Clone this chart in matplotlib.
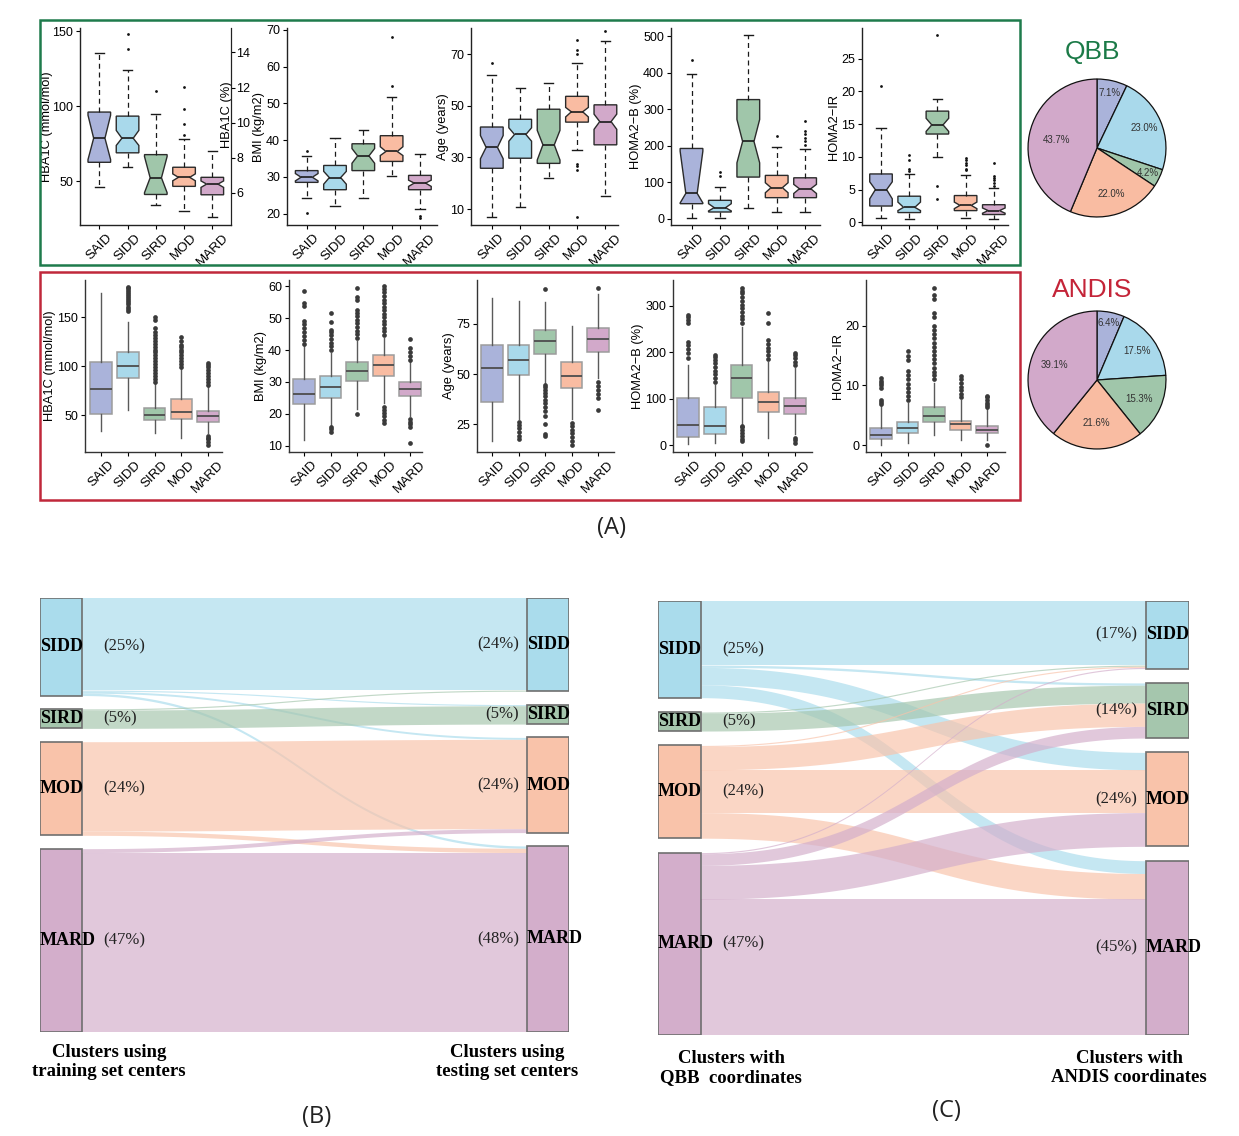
import numpy as np
import matplotlib
matplotlib.use('Agg')
import matplotlib.pyplot as plt
from matplotlib.patches import Rectangle

W, H = 1239, 1136
fig = plt.figure(figsize=(W / 100, H / 100), dpi=100)
SANS = 'Liberation Sans'
SERIF = 'Liberation Serif'

# ---------------------------------------------------------------- data
clusters = ['SAID', 'SIDD', 'SIRD', 'MOD', 'MARD']
box_colors = ['#aab3da', '#a9d9eb', '#a0c6aa', '#f9bca2', '#d2a9ca']

# QBB boxplots: (whislo, q1, median, q3, whishi, notch_lo, notch_hi)
qbb_hba1c = [(46, 62.7, 78.7, 96.1, 135.7, 64.5, 94.0), (59.8, 69, 78.7, 93.4, 124.4, 73.9, 83.9),
             (34, 41.3, 52.4, 67.8, 94.5, 42.5, 66.5), (30.4, 46.7, 52.7, 59.4, 78.3, 50.4, 55.0),
             (26, 41.1, 48.2, 52.7, 70, 46.0, 50.3)]
qbb_hba1c_out = [[], [138, 147.8], [110], [81, 88, 98, 113], []]
qbb_bmi = [(24.2, 28.5, 29.9, 31.7, 35.8, 28.9, 30.9), (22.1, 26.5, 29.8, 33.1, 40.6, 28.0, 31.5),
           (24.3, 31.7, 35.7, 39.0, 42.8, 33.7, 37.7), (30.1, 34.2, 36.9, 41.2, 51.6, 35.8, 38.2),
           (21.3, 26.5, 28.3, 30.4, 36.1, 27.4, 29.1)]
qbb_bmi_out = [[20.1, 37.0], [], [], [54.8, 68.0], [18.8, 19.4]]
qbb_age = [(7, 25.8, 33.9, 41.8, 61.9, 29.5, 38.5), (10.9, 29.7, 38.9, 44.8, 56.9, 36.3, 41.5),
           (22, 27.7, 34.9, 48.7, 58.8, 29.0, 40.5), (33, 43.7, 47.7, 53.7, 66.8, 45.7, 49.4),
           (15, 34.9, 43.9, 50.4, 75, 40.9, 46.8)]
qbb_age_out = [[66.8], [], [], [7, 25, 26.5, 27.5, 70, 71.7, 75.6], [78.9]]
qbb_homab = [(1, 41, 69.3, 192.5, 397, 43, 185), (2.7, 18.2, 30.1, 50.2, 86.7, 21, 41),
             (30, 114, 211.7, 326.6, 502.7, 153, 272), (18.2, 57.5, 84.9, 118.6, 196, 71, 98.5),
             (18, 57.5, 82, 112, 190, 69, 94)]
qbb_homab_out = [[436], [117, 128], [], [226], [203, 212, 222, 231, 240, 267]]
qbb_homair = [(0.6, 2.5, 5.0, 7.4, 14.4, 3.6, 6.2), (0.5, 1.5, 2.3, 4.0, 7.4, 1.8, 3.1),
              (10.0, 13.5, 14.9, 17.0, 18.9, 13.9, 15.9), (0.6, 1.8, 2.6, 4.1, 7.2, 2.1, 3.1),
              (0.5, 1.2, 1.8, 2.7, 5.2, 1.4, 2.2)]
qbb_homair_out = [[20.8], [7.9, 8.2, 9.6, 10.3], [3.5, 5.6, 28.6], [8.0, 8.2, 8.7, 9.1, 9.5, 9.9],
                  [5.6, 6.0, 6.4, 6.8, 7.1, 9.0]]

# ANDIS boxplots: (whislo, q1, median, q3, whishi)
andis_hba1c = [(33.7, 51.7, 77.1, 103.9, 175), (55, 88, 100.2, 114.4, 145.6), (32, 44.9, 50, 57.5, 82.9),
               (27, 45.6, 53.4, 66.6, 97.8), (32, 43.2, 49, 54, 79.5)]
andis_hba1c_out = [[], [156, 158, 160, 163, 166, 168, 170, 172, 174, 176, 178, 180, 181],
                   [84, 87, 90, 93, 96, 99, 102, 105, 108, 111, 114, 117, 120, 123, 126, 129, 132, 135, 139, 147, 150],
                   [99, 102, 105, 108, 111, 114, 117, 120, 122, 126, 130],
                   [20, 23, 26, 27, 28.6, 81, 84, 87, 90, 93, 96, 99, 101, 103]]
andis_bmi = [(12, 23, 26.1, 30.8, 41.1), (16.3, 25.1, 28.4, 31.8, 39.0), (21.5, 30.2, 33.3, 36.2, 42.7),
             (23.5, 31.8, 35.4, 38.5, 43.7), (19.4, 25.6, 27.9, 29.9, 36.5)]
andis_bmi_out = [[42, 43.2, 44.4, 45.6, 46.8, 48, 49, 53.8, 54.6, 58.5],
                 [14.5, 15.2, 16.0, 40.0, 41.2, 42.3, 43.5, 44.6, 45.7, 46.3, 48.9, 51.7],
                 [19.9, 43.8, 44.9, 46.0, 47.2, 48.3, 49.5, 50.6, 51.7, 52.5, 55.5, 56.7, 59.3],
                 [17.3, 18.2, 19.5, 20.4, 21.3, 22.3, 44.8, 45.9, 47.0, 48.1, 49.2, 50.3, 51.4, 52.5,
                  53.6, 54.7, 55.8, 56.9, 58.0, 59.1, 60.0],
                 [10.8, 15.8, 16.8, 17.6, 18.3, 37.0, 38.2, 39.4, 40.6, 43.4]]
andis_age = [(16.8, 36.1, 52.9, 64.6, 87.7), (27.5, 49.8, 57.2, 64.6, 86.6), (45.6, 60, 66.3, 72, 86),
             (27.5, 43.2, 48.9, 56, 73.7), (48, 61, 67.6, 72.9, 89.9)]
andis_age_out = [[], [17.6, 19.5, 21.3, 23.1, 24.8, 26.3],
                 [19.5, 20.4, 25, 29, 31.5, 33.5, 35.5, 37.3, 39.0, 40.5, 42.0, 43.5, 44.6, 92.2],
                 [15, 17, 18.8, 20.5, 22.2, 24, 25.8],
                 [32.4, 38, 40, 42, 44, 46, 93]]
andis_homab = [(1.4, 17.9, 43.7, 101.7, 173), (5, 24.3, 40.8, 81.6, 130), (44.4, 101.7, 144.6, 173, 255.6),
               (15.7, 71, 93, 114.6, 180), (23, 65.9, 85.2, 101.7, 166)]
andis_homab_out = [[187.6, 198, 207, 216, 223, 263, 270, 276, 281],
                   [137, 145, 153, 160, 168, 176, 184, 190, 195],
                   [8.6, 14, 20, 26, 32, 38, 42, 263, 271, 279, 287, 295, 303, 311, 319, 327, 333, 338],
                   [186, 194, 202, 210, 218, 227, 263, 284],
                   [5, 10, 15.7, 172, 180, 188, 195, 198]]
andis_homair = [(0, 0.95, 1.7, 2.8, 6.5), (0.4, 2.1, 2.8, 3.9, 7.1), (1.7, 3.8, 4.85, 6.4, 10.4),
                (0.9, 2.5, 3.45, 4.1, 7.6), (0.9, 2.1, 2.6, 3.2, 6.0)]
andis_homair_out = [[6.9, 7.3, 7.6, 9.6, 10.0, 10.4, 10.8, 11.2],
                    [7.5, 8.2, 8.9, 9.6, 10.3, 11.0, 11.7, 12.4, 14.3, 15.0, 15.8],
                    [11.0, 11.7, 12.3, 13.0, 13.7, 14.4, 15.1, 15.8, 16.5, 17.2, 17.9, 18.6, 19.3, 20.0,
                     21.5, 22.2, 24.5, 25.2, 26.3],
                    [8.0, 8.6, 9.2, 9.8, 10.4, 11.0, 11.6],
                    [0.0, 6.3, 6.7, 7.1, 7.5, 8.0, 8.3]]

# pies (share of each cluster, %)
qbb_share = [7.1, 23.0, 4.2, 22.0, 43.7]
andis_share = [6.4, 17.5, 15.3, 21.6, 39.1]

# sankey flows (% of patients), rows = source cluster, cols = target cluster
sankey_nodes = ['SIDD', 'SIRD', 'MOD', 'MARD']
flows_B = [[23.6, 0.3, 0.5, 0.6],
           [0.3, 4.7, 0.0, 0.0],
           [0.0, 0.0, 22.9, 1.1],
           [0.0, 0.0, 1.0, 46.0]]
flows_C = [[16.5, 0.6, 4.5, 3.3],
           [0.3, 4.6, 0.0, 0.0],
           [0.3, 6.0, 11.0, 6.6],
           [0.3, 3.0, 8.7, 35.0]]
capB = ['Clusters using\ntraining set centers', 'Clusters using\ntesting set centers']
capC = ['Clusters with\nQBB  coordinates', 'Clusters with\nANDIS coordinates']

# ---------------------------------------------------------------- helpers
def px_axes(x0, y0, x1, y1):
    return fig.add_axes([x0 / W, 1 - y1 / H, (x1 - x0) / W, (y1 - y0) / H])


def boxpanel(rect, stats, outs, style, ylim, yticks, ylabel, b1, sp):
    x0, y0, x1, y1 = rect
    ax = px_axes(x0, y0, x1, y1)
    pos = np.arange(1, 6)
    st = []
    for s, fl in zip(stats, outs):
        d = dict(whislo=s[0], q1=s[1], med=s[2], q3=s[3], whishi=s[4], fliers=np.array(fl, float))
        if len(s) > 5:
            d['cilo'], d['cihi'] = s[5], s[6]
        st.append(d)
    if style == 'qbb':
        art = ax.bxp(st, positions=pos, widths=0.8, shownotches=True, patch_artist=True, capwidths=0.33,
                     boxprops=dict(edgecolor='#2b2b2b', linewidth=1.0),
                     medianprops=dict(color='#1a1a1a', linewidth=1.2),
                     whiskerprops=dict(color='#1a1a1a', linewidth=0.9, linestyle=(0, (4, 3))),
                     capprops=dict(color='#1a1a1a', linewidth=1.0),
                     flierprops=dict(marker='o', markersize=2.0, markerfacecolor='#111111',
                                     markeredgecolor='none'))
    else:
        art = ax.bxp(st, positions=pos, widths=0.8, patch_artist=True, showcaps=False,
                     boxprops=dict(edgecolor='#9c9c9c', linewidth=1.1),
                     medianprops=dict(color='#4d4d4d', linewidth=1.3),
                     whiskerprops=dict(color='#5a5a5a', linewidth=1.0),
                     flierprops=dict(marker='o', markersize=3.4, markerfacecolor='#3a3a3a',
                                     markeredgecolor='none'))
    for p, c in zip(art['boxes'], box_colors):
        p.set_facecolor(c)
    ax.set_xlim(1 - (b1 - x0) / sp, 5 + (x1 - (b1 + 4 * sp)) / sp)
    ax.set_ylim(ylim)
    ax.set_yticks(yticks)
    ax.set_xticks(pos)
    ax.set_xticklabels(clusters, rotation=45, ha='center', va='top', fontsize=9.6, family=SANS)
    for sname in ['top', 'right']:
        ax.spines[sname].set_visible(False)
    for sname in ['left', 'bottom']:
        ax.spines[sname].set_linewidth(1.0)
        ax.spines[sname].set_color('#222222' if style == 'qbb' else '#333333')
    ax.tick_params(length=3, width=0.8, pad=2)
    ax.tick_params(axis='y', labelsize=9)
    for lab in ax.get_yticklabels():
        lab.set_fontfamily(SANS)
    ax.set_ylabel(ylabel, fontsize=9.3, labelpad=1, family=SANS)
    ax.patch.set_alpha(0)
    return ax


# ---------------------------------------------------------------- QBB row
T1, B1 = 28, 225
ax = boxpanel((80, T1, 231, B1), qbb_hba1c, qbb_hba1c_out, 'qbb', (21, 152), [50, 100, 150],
              'HBA1C (mmol/mol)', 99.3, 28.25)
ax.yaxis.set_label_coords(-0.178, 0.5)
ax.spines['right'].set_visible(True)
ax2 = ax.twinx()
ax2.set_ylim(4.17, 15.39)
ax2.set_yticks([6, 8, 10, 12, 14])
ax2.tick_params(labelsize=9, length=3, width=0.8, pad=1)
for sname in ['top', 'left', 'bottom']:
    ax2.spines[sname].set_visible(False)
ax2.spines['right'].set_color('#222222')
ax2.set_ylabel('HBA1C (%)', fontsize=9.3, family=SANS)
ax2.yaxis.set_label_coords(0.935, 0.56)
for lab in ax2.get_yticklabels():
    lab.set_fontfamily(SANS)

boxpanel((287, T1, 437, B1), qbb_bmi, qbb_bmi_out, 'qbb', (16.9, 70.5), [20, 30, 40, 50, 60, 70],
         'BMI (kg/m2)', 306.7, 28.3)
boxpanel((471, T1, 618, B1), qbb_age, qbb_age_out, 'qbb', (3.8, 80.2), [10, 30, 50, 70],
         'Age (years)', 491.8, 28.4)
boxpanel((671, T1, 820, B1), qbb_homab, qbb_homab_out, 'qbb', (-17.5, 523), [0, 100, 200, 300, 400, 500],
         'HOMA2\u2212B (%)', 691.5, 28.4)
boxpanel((862, T1, 1008, B1), qbb_homair, qbb_homair_out, 'qbb', (-0.4, 29.7), [0, 5, 10, 15, 20, 25],
         'HOMA2\u2212IR', 881, 28.2)

# ---------------------------------------------------------------- ANDIS row
T2, B2 = 280, 452
boxpanel((85, T2, 222, B2), andis_hba1c, andis_hba1c_out, 'andis', (12.4, 188), [50, 100, 150],
         'HBA1C (mmol/mol)', 101, 26.8)
boxpanel((289, T2, 422, B2), andis_bmi, andis_bmi_out, 'andis', (8.1, 61.9), [10, 20, 30, 40, 50, 60],
         'BMI (kg/m2)', 304, 26.5)
boxpanel((477, T2, 614, B2), andis_age, andis_age_out, 'andis', (11.3, 96.8), [25, 50, 75],
         'Age (years)', 492, 26.5)
boxpanel((673, T2, 812, B2), andis_homab, andis_homab_out, 'andis', (-15, 356), [0, 100, 200, 300],
         'HOMA2\u2212B (%)', 688, 26.8)
boxpanel((866, T2, 1005, B2), andis_homair, andis_homair_out, 'andis', (-1.17, 27.7), [0, 10, 20],
         'HOMA2\u2212IR', 881, 26.5)


# ---------------------------------------------------------------- pies
def pie(rect, vals, radii):
    axp = px_axes(*rect)
    wedges, _, autot = axp.pie(vals, colors=box_colors, startangle=90, counterclock=False,
                               wedgeprops=dict(edgecolor='#111111', linewidth=0.9),
                               autopct='%.1f%%', textprops=dict(fontsize=7, color='#333333', family=SANS))
    for w, t, r in zip(wedges, autot, radii):
        a = np.deg2rad((w.theta1 + w.theta2) / 2)
        t.set_position((r * np.cos(a), r * np.sin(a)))
    axp.set_xlim(-1.015, 1.015)
    axp.set_ylim(-1.015, 1.015)
    axp.set_aspect('equal')
    return axp


pie((1027, 78, 1167, 218), qbb_share, [0.82, 0.74, 0.82, 0.70, 0.60])
pie((1027, 310, 1167, 450), andis_share, [0.84, 0.72, 0.67, 0.62, 0.66])
fig.text(1092 / W, 1 - 52 / H, 'QBB', color='#1b7a47', fontsize=19, family=SANS, ha='center', va='center')
fig.text(1092 / W, 1 - 290 / H, 'ANDIS', color='#c42438', fontsize=19, family=SANS, ha='center', va='center')

# frames
fig.patches.append(Rectangle((40 / W, 1 - 265 / H), 980 / W, 245 / H, transform=fig.transFigure,
                             fill=False, edgecolor='#1e7b4c', linewidth=1.8))
fig.patches.append(Rectangle((40 / W, 1 - 500 / H), 980 / W, 228 / H, transform=fig.transFigure,
                             fill=False, edgecolor='#c0283b', linewidth=1.8))

# ---------------------------------------------------------------- sankeys
node_cols = ['#aadcec', '#a5c6ad', '#f9c3aa', '#d3aecb']


def sankey(rect, flows, gap, nw, pct_l, pct_r):
    axs = px_axes(*rect)
    f = np.asarray(flows, float)
    n = len(f)
    out_t, in_t = f.sum(1), f.sum(0)
    ly = np.concatenate([[0], np.cumsum(out_t + gap)[:-1]])
    ry = np.concatenate([[0], np.cumsum(in_t + gap)[:-1]])
    total = max(out_t.sum(), in_t.sum()) + gap * (n - 1)
    axs.set_xlim(0, 1)
    axs.set_ylim(total, 0)
    axs.axis('off')
    t = np.linspace(0, 1, 120)
    xa, xb = nw, 1 - nw
    xm = (xa + xb) / 2
    bx = (1 - t) ** 3 * xa + 3 * (1 - t) ** 2 * t * xm + 3 * (1 - t) * t ** 2 * xm + t ** 3 * xb
    sw = 3 * (1 - t) * t ** 2 + t ** 3
    so, to = ly.copy(), ry.copy()
    for i in range(n):
        for j in range(n):
            v = f[i, j]
            if v <= 0:
                continue
            top = so[i] + (to[j] - so[i]) * sw
            axs.fill_between(bx, top, top + v, color=node_cols[i], alpha=0.68, lw=0, zorder=1)
            so[i] += v
            to[j] += v
    for i in range(n):
        axs.add_patch(Rectangle((0, ly[i]), nw, out_t[i], facecolor=node_cols[i], edgecolor='#6f6f6f',
                                linewidth=1.2, zorder=3))
        axs.add_patch(Rectangle((1 - nw, ry[i]), nw, in_t[i], facecolor=node_cols[i], edgecolor='#6f6f6f',
                                linewidth=1.2, zorder=3))
        yc = ly[i] + out_t[i] / 2
        axs.text(0, yc, sankey_nodes[i], ha='left', va='center', fontsize=13, fontweight='bold',
                 family=SERIF, zorder=4)
        axs.annotate(f'({out_t[i]:.0f}%)', (nw, yc), xytext=(pct_l, 0), textcoords='offset pixels',
                     ha='left', va='center', fontsize=12, family=SERIF, color='#222222', zorder=4)
        yc = ry[i] + in_t[i] / 2
        axs.text(1 - nw, yc, sankey_nodes[i], ha='left', va='center', fontsize=13, fontweight='bold',
                 family=SERIF, zorder=4)
        axs.annotate(f'({in_t[i]:.0f}%)', (1 - nw, yc), xytext=(pct_r, 0), textcoords='offset pixels',
                     ha='right', va='center', fontsize=12, family=SERIF, color='#222222', zorder=4)
    return axs


sankey((40, 598, 569, 1032), flows_B, 3.42, 42 / 529, 21, -8)
sankey((658, 601, 1189, 1035), flows_C, 3.7, 43 / 531, 21, -9)

for (x, y), s in zip([(109, 1062), (507, 1062), (731, 1068), (1129, 1068)], capB + capC):
    fig.text(x / W, 1 - y / H, s, ha='center', va='center', multialignment='center', fontsize=13.5,
             fontweight='bold', family=SERIF, linespacing=1.1)

for (x, y), s in zip([(612, 528), (317, 1117), (946, 1111)], ['(A)', '(B)', '(C)']):
    fig.text(x / W, 1 - y / H, s, ha='center', va='center', fontsize=17, family='Open Sans', color='#222222')

fig.savefig('out.png', dpi=100)
